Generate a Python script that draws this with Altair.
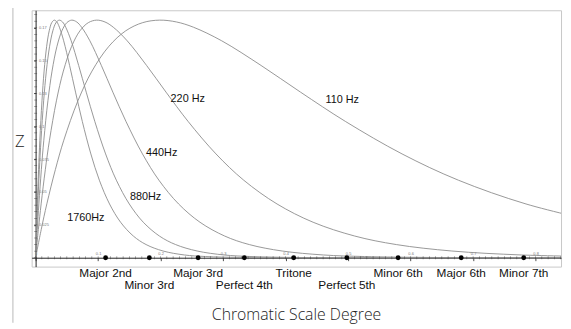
import altair as alt
import pandas as pd

# ---- curve data ----
d_1760_x = [0, 0.00136, 0.00272, 0.00476, 0.0068, 0.0102, 0.0136, 0.0177, 0.0218, 0.0258, 0.0299, 0.034,
            0.0381, 0.0449, 0.0544, 0.0639, 0.0748, 0.0884, 0.102, 0.1183, 0.136, 0.1564, 0.1768, 0.204,
            0.238, 0.272, 0.3264, 0.408, 0.6, 0.84]
d_1760_y = [0, 0.0215, 0.0410, 0.0670, 0.0894, 0.1194, 0.1420, 0.1609, 0.1727, 0.1789, 0.1808, 0.1794,
            0.1754, 0.1651, 0.1463, 0.1260, 0.1036, 0.0790, 0.0590, 0.0409, 0.0270, 0.0165, 0.0100, 0.0051,
            0.0021, 0.0009, 0.0002, 0.0, 0.0, 0.0]
d_880_x = [0, 0.00172, 0.00345, 0.00603, 0.00862, 0.0129, 0.0172, 0.0224, 0.0276, 0.0327, 0.0379, 0.0431,
           0.0482, 0.0569, 0.0689, 0.0810, 0.0948, 0.112, 0.1292, 0.1499, 0.1723, 0.1981, 0.224, 0.2585,
           0.3015, 0.3446, 0.4135, 0.5169, 0.84]
d_880_y = [0, 0.0215, 0.0410, 0.0670, 0.0894, 0.1194, 0.1420, 0.1609, 0.1727, 0.1789, 0.1808, 0.1794,
           0.1754, 0.1651, 0.1463, 0.1260, 0.1036, 0.0790, 0.0590, 0.0409, 0.0270, 0.0165, 0.0100, 0.0051,
           0.0021, 0.0009, 0.0002, 0.0, 0.0]
d_440_x = [0, 0.00263, 0.00526, 0.0092, 0.01315, 0.0197, 0.0263, 0.0342, 0.0421, 0.0500, 0.0579, 0.0658,
           0.0736, 0.0868, 0.1052, 0.1236, 0.1447, 0.171, 0.1973, 0.2288, 0.263, 0.3025, 0.3419, 0.3945,
           0.4603, 0.526, 0.6312, 0.789, 0.84]
d_440_y = [0, 0.0215, 0.0410, 0.0670, 0.0894, 0.1194, 0.1420, 0.1609, 0.1727, 0.1789, 0.1808, 0.1794,
           0.1754, 0.1651, 0.1463, 0.1260, 0.1036, 0.0790, 0.0590, 0.0409, 0.0270, 0.0165, 0.0100, 0.0051,
           0.0021, 0.0009, 0.0002, 0.0, 0.0]
d_220_x = [0, 0.00444, 0.00888, 0.01554, 0.0222, 0.0333, 0.0444, 0.0577, 0.071, 0.0844, 0.0977, 0.111,
           0.1243, 0.1465, 0.1776, 0.2087, 0.2442, 0.2886, 0.333, 0.3863, 0.444, 0.5106, 0.5772, 0.666,
           0.777, 0.888]
d_220_y = [0, 0.0215, 0.0410, 0.0670, 0.0894, 0.1194, 0.1420, 0.1609, 0.1727, 0.1789, 0.1808, 0.1794,
           0.1754, 0.1651, 0.1463, 0.1260, 0.1036, 0.0790, 0.0590, 0.0409, 0.0270, 0.0165, 0.0100, 0.0051,
           0.0021, 0.0009]
d_110_x = [0, 0.00902, 0.018, 0.0316, 0.0451, 0.0677, 0.0902, 0.1173, 0.1443, 0.1714, 0.1984, 0.2255,
           0.2526, 0.2977, 0.3608, 0.4239, 0.4961, 0.5863, 0.6765, 0.7847, 0.902]
d_110_y = [0, 0.0215, 0.0410, 0.0670, 0.0894, 0.1194, 0.1420, 0.1609, 0.1727, 0.1789, 0.1808, 0.1794,
           0.1754, 0.1651, 0.1463, 0.1260, 0.1036, 0.0790, 0.0590, 0.0409, 0.0270]

curve_names = ["1760Hz", "880Hz", "440Hz", "220 Hz", "110 Hz"]
curve_label_x = [0.0505, 0.151, 0.1767, 0.216, 0.4637]
curve_label_y = [0.030, 0.0458, 0.0795, 0.1208, 0.120]

# ---- intervals ----
interval_names = ["Major 2nd", "Minor 3rd", "Major 3rd", "Perfect 4th", "Tritone",
                  "Perfect 5th", "Minor 6th", "Major 6th", "Minor 7th"]
interval_pos = [0.112, 0.182, 0.260, 0.334, 0.413, 0.498, 0.580, 0.681, 0.781]
interval_row = [1, 2, 1, 2, 1, 2, 1, 1, 1]

x_tick_values = [0, 0.05, 0.1, 0.15, 0.2, 0.25, 0.3, 0.35, 0.4, 0.45, 0.5, 0.55, 0.6, 0.65, 0.7, 0.75, 0.8]
y_tick_values = [0.025, 0.05, 0.075, 0.1, 0.125, 0.15, 0.175]
x_minor = [round(i * 0.01, 2) for i in range(0, 85)]
y_minor = [round(i * 0.005, 3) for i in range(0, 38)]

# ---- build tables ----
rows = []
for name, xs, ys in [("1760", d_1760_x, d_1760_y), ("880", d_880_x, d_880_y), ("440", d_440_x, d_440_y),
                     ("220", d_220_x, d_220_y), ("110", d_110_x, d_110_y)]:
    for i, (a, b) in enumerate(zip(xs, ys)):
        rows.append({"curve": name, "i": i, "x": a, "y": b})
curves_df = pd.DataFrame(rows)
labels_df = pd.DataFrame({"name": curve_names, "lx": curve_label_x, "ly": curve_label_y})
int_df = pd.DataFrame({"name": interval_names, "pos": interval_pos, "row": interval_row})
xminor_df = pd.DataFrame({"t": x_minor})
yminor_df = pd.DataFrame({"t": y_minor})
one = pd.DataFrame({"a": [0]})

xs_scale = alt.Scale(domain=[-0.00631, 0.8407], nice=False, zero=False)
ys_scale = alt.Scale(domain=[-0.00675, 0.1883], nice=False, zero=False)

x_axis = alt.Axis(values=x_tick_values, offset=-9, domainColor="#222", domainWidth=1, tickColor="#222",
                  tickSize=3, tickWidth=0.8, labelFontSize=4, labelColor="#777", labelPadding=-9,
                  labelFlush=False, grid=False, title=None, format="~g")
y_axis = alt.Axis(values=y_tick_values, offset=-4, domainColor="#222", domainWidth=1, tickColor="#222",
                  tickSize=2, tickWidth=0.8, labelFontSize=4, labelColor="#777", labelPadding=-5,
                  labelAlign="left", grid=False, title=None, format="~g")

curves = alt.Chart(curves_df).mark_line(clip=True, interpolate="catmull-rom", color="#8c8c8c",
                                          strokeWidth=0.9).encode(
    x=alt.X("x:Q", scale=xs_scale, axis=x_axis),
    y=alt.Y("y:Q", scale=ys_scale, axis=y_axis),
    detail="curve:N",
    order="i:Q",
)

xminor = alt.Chart(xminor_df).mark_tick(orient="vertical", size=3, thickness=0.6, color="#333").encode(
    x=alt.X("t:Q", scale=xs_scale), y=alt.datum(0))
yminor = alt.Chart(yminor_df).mark_tick(orient="horizontal", size=3, thickness=0.6, color="#333").encode(
    y=alt.Y("t:Q", scale=ys_scale), x=alt.datum(0))

dots = alt.Chart(int_df).mark_circle(size=24, color="black", opacity=1).encode(
    x=alt.X("pos:Q", scale=xs_scale), y=alt.datum(0))

row1 = alt.Chart(int_df).transform_filter("datum.row == 1").mark_text(
    font="Liberation Sans", fontSize=12, color="#111", baseline="middle", align="center").encode(
    x=alt.X("pos:Q", scale=xs_scale), y=alt.value(266.5), text="name:N")
row2 = alt.Chart(int_df).transform_filter("datum.row == 2").mark_text(
    font="Liberation Sans", fontSize=12, color="#111", baseline="middle", align="center").encode(
    x=alt.X("pos:Q", scale=xs_scale), y=alt.value(279), text="name:N")

clabels = alt.Chart(labels_df).mark_text(font="Liberation Sans", fontSize=11, color="#111",
                                         align="left", baseline="middle").encode(
    x=alt.X("lx:Q", scale=xs_scale), y=alt.Y("ly:Q", scale=ys_scale), text="name:N")

ztitle = alt.Chart(one).mark_text(font="Open Sans", fontSize=17, fontWeight=300, color="#222",
                                  align="center", baseline="middle").encode(
    x=alt.value(-12), y=alt.value(134), text=alt.value("Z"))
xtitle = alt.Chart(one).mark_text(font="Open Sans", fontSize=16, fontWeight=300, color="#222",
                                  align="center", baseline="middle").encode(
    x=alt.value(268.7), y=alt.value(309), text=alt.value("Chromatic Scale Degree"))
leftline = alt.Chart(one).mark_rule(color="#b8b8b8", strokeWidth=1).encode(
    x=alt.value(-19), y=alt.value(-3), y2=alt.value(317))

chart = alt.layer(curves, xminor, yminor, dots, row1, row2, clabels, ztitle, xtitle, leftline).properties(
    width=537, height=260,
    padding={"left": 24, "top": 0, "right": 2, "bottom": 61},
    autosize=alt.AutoSizeParams(type="none"),
).configure_view(stroke="#c8c8c8", strokeWidth=1)

chart.save("out.html", embed_options={"renderer": "svg", "actions": False})
